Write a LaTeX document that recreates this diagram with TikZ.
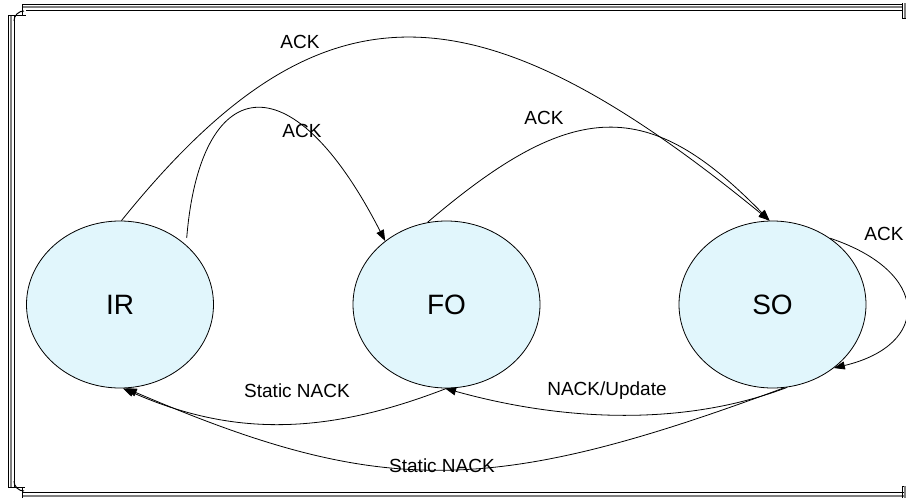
\documentclass[tikz,border=0pt]{standalone}
\usepackage{fontspec}
\setmainfont{Liberation Sans}
\usetikzlibrary{shapes.geometric,arrows.meta}
\definecolor{statefill}{RGB}{225,246,252}
\definecolor{framegrey}{RGB}{128,128,128}
\begin{document}
\begin{tikzpicture}[x=1pt,y=-1pt,
  state/.style={ellipse, draw=black, line width=0.8pt, fill=statefill,
    minimum width=187pt, minimum height=167pt, inner sep=0pt,
    font=\fontsize{28}{32}\selectfont},
  trans/.style={line width=0.8pt, -{Triangle[length=11pt,width=8pt]}},
  lbl/.style={font=\fontsize{19}{22}\selectfont, inner sep=0pt},
  fb/.style={line width=1pt, black},
  fg/.style={line width=1.6pt, framegrey}]
\useasboundingbox (0,0) rectangle (906,498);

% frame: left bundle
\draw[fb] (8,487) -- (8,15);
\draw[fg] (11,487) -- (11,15);
\draw[fb] (14,487) -- (14,15);
% frame: top bundle
\draw[fb] (22,4) -- (902,4);
\draw[fg] (22,7) -- (902,7);
\draw[fb] (26,10) -- (902,10);
% frame: bottom bundle
\draw[fb] (22,492.5) -- (906,492.5);
\draw[fg] (22,496) -- (906,496);
% corner ornaments
\draw[fb] (8,15) -- (26,15);
\draw[fb] (22,4) -- (22,15);
\draw[fb] (14,21) arc[start angle=180,end angle=270,radius=10];
\draw[fb] (8,487) -- (25,487);
\draw[fb] (22,487) -- (22,498);
\draw[fb] (14,481) arc[start angle=180,end angle=90,radius=10];
\draw[fb] (902,3) -- (902,18) -- (906,18);
\draw[fg] (905,3) -- (905,18);
\draw[fb] (902,498) -- (902,486) -- (906,486);
\draw[fg] (905,486) -- (905,498);

% states
\node[state] (IR) at (120,304.5) {IR};
\node[state] (FO) at (446.5,304.5) {FO};
\node[state] (SO) at (772.5,304.5) {SO};

% transitions
\draw[trans] (IR.89) .. controls (318,-23) and (472,-23) .. (SO.92);
\draw[trans, shorten <=7pt] (IR.42) .. controls (200,75) and (290,55) .. (FO.134);
\draw[trans] (FO.103) .. controls (574,97) and (649,97) .. (SO.92);
\draw[trans] (SO.49) .. controls (931,272) and (931,345) .. (SO.-46);
\draw[trans] (FO.-90) .. controls (324,436) and (231,436) .. (IR.-88);
\draw[trans] (SO.-80) .. controls (691,424) and (573,424) .. (FO.-91);
\draw[trans] (SO.-82) .. controls (490,497) and (380,497) .. (IR.-86);

% labels
\node[lbl] (l1) at (300,42) {ACK};
\node[lbl] (l2) at (302,131) {ACK};
\node[lbl] (l3) at (544,118) {ACK};
\node[lbl] (l4) at (884,234) {ACK};
\node[lbl] (l5) at (297,391) {Static NACK};
\node[lbl] (l6) at (607,391) {NACK/Update};
\node[lbl] (l7) at (442,466) {Static NACK};
\end{tikzpicture}
\end{document}
